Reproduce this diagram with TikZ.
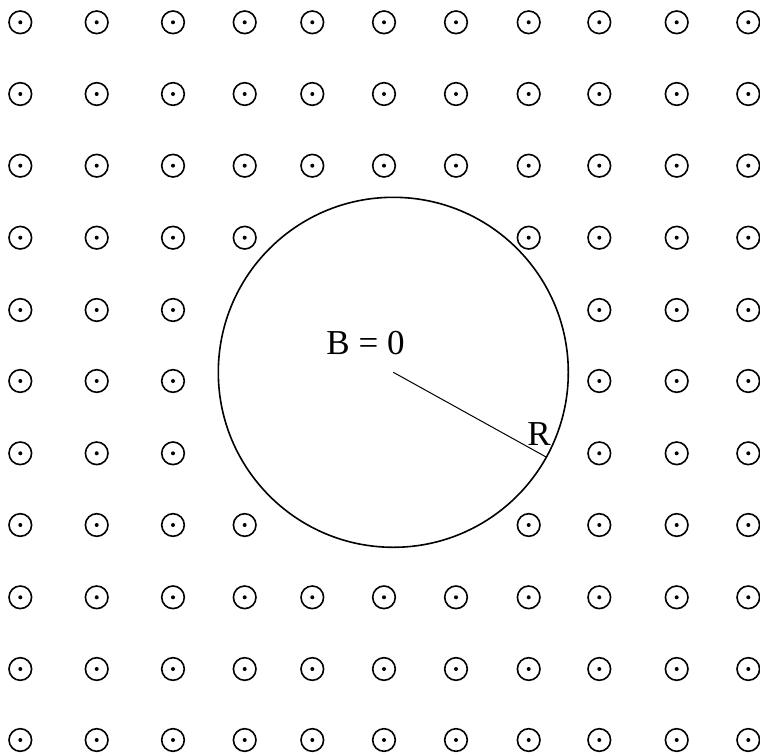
\documentclass[tikz,border=0pt]{standalone}
\usepackage{fontspec}
\setmainfont{Liberation Serif}
\begin{document}
\begin{tikzpicture}[x=0.5pt,y=-0.5pt,
  sym/.style={circle,draw,line width=0.8pt,minimum size=11.3pt,inner sep=0pt,outer sep=0pt,
    path picture={\fill (path picture bounding box.center) circle[radius=1pt];}},
  region/.style={circle,draw,line width=0.8pt,minimum size=175pt,inner sep=0pt,outer sep=0pt},
  lbl/.style={inner sep=0pt,font=\fontsize{17.5pt}{21pt}\selectfont},
  radius line/.style={line width=0.5pt}]
\useasboundingbox (0,0) rectangle (760,755);
\def\colX{{20.3,96.7,173,244.7,312.3,384,456,528.7,599.3,676.7,748.3}}
\def\rowY{{22.3,94,165.7,237.7,310,381,453.3,525,597.3,669,740}}
\foreach \r/\cols in {0/{0,...,10},1/{0,...,10},2/{0,...,10},
    3/{0,1,2,3,7,8,9,10},4/{0,1,2,8,9,10},5/{0,1,2,8,9,10},6/{0,1,2,8,9,10},
    7/{0,1,2,3,7,8,9,10},8/{0,...,10},9/{0,...,10},10/{0,...,10}}{
  \foreach \c in \cols {
    \pgfmathsetmacro\xx{\colX[\c]}
    \pgfmathsetmacro\yy{\rowY[\r]}
    \node[sym] (s-\r-\c) at (\xx,\yy) {};
  }
}
\coordinate (c) at (393.3,372.3);
\node[region] (shield) at (c) {};
\draw[radius line] (c) -- (shield.-29);
\node[lbl] (b0) at (365.5,343) {B = 0};
\node[lbl] (rl) at (539,434) {R};
\end{tikzpicture}
\end{document}
